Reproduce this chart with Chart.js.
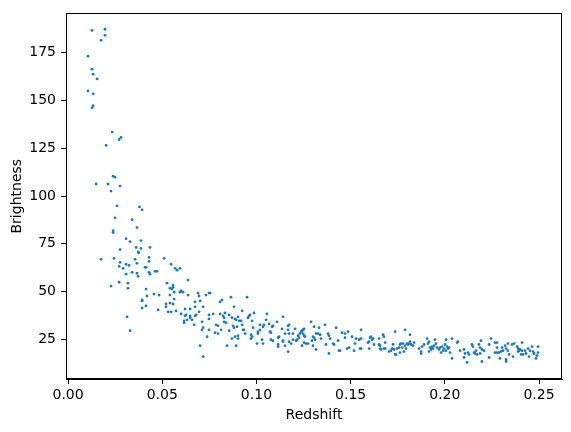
<!DOCTYPE html>
<html lang="en">
<head>
    <meta charset="UTF-8">
    <title>Redshift vs Brightness</title>
    <script src="https://cdn.jsdelivr.net/npm/chart.js"></script>
    <style>
        body { margin: 0; background: #fff; }
    </style>
</head>
<body>
    <canvas id="scatterChart" width="571" height="432"></canvas>

    <script>
        // values
        const redshift = [
            0.0127,0.0196,0.0196,0.0175,0.0106,0.0127,0.0133,0.0154,0.0106,0.0133,
            0.0133,0.0127,0.0234,0.0281,0.0271,0.0202,0.0239,0.0249,0.0149,0.0212,
            0.0276,0.0228,0.0260,0.0379,0.0393,0.0249,0.0340,0.0366,0.0239,0.0239,
            0.0308,0.0329,0.0387,0.0361,0.0387,0.0435,0.0372,0.0276,0.0375,0.0175,
            0.0244,0.0276,0.0356,0.0271,0.0308,0.0324,0.0292,0.0366,0.0340,0.0308,
            0.0366,0.0372,0.0228,0.0271,0.0318,0.0318,0.0313,0.0329,0.0430,0.0430,
            0.0510,0.0409,0.0414,0.0547,0.0430,0.0435,0.0462,0.0472,0.0568,0.0579,
            0.0594,0.0637,0.0525,0.0541,0.0552,0.0557,0.0557,0.0414,0.0563,0.0594,
            0.0600,0.0610,0.0456,0.0483,0.0541,0.0419,0.0637,0.0690,0.0695,0.0732,
            0.0748,0.0393,0.0393,0.0563,0.0520,0.0520,0.0541,0.0557,0.0674,0.0701,
            0.0414,0.0393,0.0478,0.0531,0.0547,0.0573,0.0621,0.0648,0.0674,0.0717,
            0.0600,0.0621,0.0626,0.0648,0.0648,0.0674,0.0680,0.0695,0.0616,0.0616,
            0.0632,0.0658,0.0669,0.0711,0.0717,0.0711,0.0748,0.0748,0.0748,0.0738,
            0.0701,0.0717,0.0754,0.0770,0.0786,0.0796,0.0780,0.0796,0.0807,0.0817,
            0.0807,0.0823,0.0828,0.0833,0.0828,0.0839,0.0812,0.0844,0.0855,0.0855,
            0.0865,0.0870,0.0870,0.0881,0.0886,0.0881,0.0876,0.0892,0.0897,0.0886,
            0.0892,0.0902,0.0902,0.0902,0.0908,0.0918,0.0924,0.0924,0.0929,0.0934,
            0.0940,0.0950,0.0955,0.0961,0.0966,0.0977,0.0987,0.0982,0.0971,0.0977,
            0.0971,0.1003,0.1008,0.1008,0.1019,0.1019,0.1030,0.1035,0.1035,0.1040,
            0.1051,0.1056,0.1067,0.1072,0.1077,0.1077,0.1088,0.1083,0.1088,0.1109,
            0.1115,0.1115,0.1115,0.1120,0.1136,0.1141,0.1141,0.1141,0.1152,0.1152,
            0.1168,0.1168,0.1173,0.1168,0.1173,0.1173,0.1184,0.1194,0.1194,0.1205,
            0.1210,0.1216,0.1221,0.1226,0.1231,0.1237,0.1242,0.1242,0.1247,0.1253,
            0.1247,0.1253,0.1258,0.1253,0.1263,0.1274,0.1290,0.1295,0.1300,0.1306,
            0.1306,0.1300,0.1311,0.1316,0.1316,0.1327,0.1332,0.1338,0.1343,0.1364,
            0.1369,0.1380,0.1385,0.1391,0.1385,0.1407,0.1412,0.1423,0.1433,0.1438,
            0.1444,0.1454,0.1470,0.1470,0.1481,0.1486,0.1492,0.1507,0.1518,0.1523,
            0.1529,0.1545,0.1555,0.1555,0.1550,0.1555,0.1592,0.1598,0.1598,0.1603,
            0.1608,0.1614,0.1619,0.1624,0.1651,0.1651,0.1656,0.1656,0.1661,0.1672,
            0.1677,0.1683,0.1677,0.1683,0.1704,0.1714,0.1720,0.1725,0.1730,0.1736,
            0.1736,0.1741,0.1746,0.1757,0.1762,0.1762,0.1767,0.1773,0.1778,0.1783,
            0.1789,0.1789,0.1794,0.1799,0.1805,0.1810,0.1815,0.1815,0.1821,0.1831,
            0.1863,0.1837,0.1874,0.1874,0.1879,0.1890,0.1906,0.1911,0.1916,0.1916,
            0.1921,0.1927,0.1932,0.1937,0.1943,0.1948,0.1953,0.1959,0.1969,0.1975,
            0.1980,0.1985,0.1991,0.1996,0.2001,0.2006,0.2006,0.2012,0.2017,0.2022,
            0.2028,0.2038,0.2038,0.2065,0.2070,0.2081,0.2102,0.2102,0.2107,0.2118,
            0.2123,0.2128,0.2144,0.2149,0.2155,0.2160,0.2165,0.2171,0.2181,0.2187,
            0.2192,0.2187,0.2197,0.2197,0.2208,0.2235,0.2235,0.2245,0.2266,0.2277,
            0.2266,0.2277,0.2277,0.2288,0.2298,0.2293,0.2304,0.2309,0.2320,0.2325,
            0.2325,0.2325,0.2335,0.2335,0.2341,0.2357,0.2362,0.2368,0.2384,0.2389,
            0.2389,0.2394,0.2399,0.2405,0.2410,0.2410,0.2415,0.2426,0.2431,0.2442,
            0.2447,0.2452,0.2463,0.2468,0.2474,0.2484,0.2495,0.2495,0.2489
        ];
        const brightness = [
            186.7,187.3,184.1,181.5,173.2,166.4,163.8,161.3,155.0,153.5,
            147.3,146.2,133.5,130.7,129.6,126.5,110.4,109.9,106.3,106.3,
            105.2,102.6,94.9,94.3,92.8,88.6,87.6,83.5,81.9,80.9,
            77.7,76.2,76.7,73.1,72.6,73.1,70.8,72.0,70.3,66.9,
            67.4,65.3,66.9,63.2,64.3,63.7,62.2,64.8,60.1,59.1,
            59.6,58.0,52.9,54.9,54.4,51.8,36.8,29.5,67.9,65.8,
            67.4,62.7,62.7,64.3,60.1,59.1,60.6,60.6,62.2,61.2,
            62.2,56.0,54.4,51.8,51.3,53.4,52.3,51.3,49.7,49.7,
            50.3,49.7,48.7,48.2,48.2,47.7,48.2,49.2,47.7,48.2,
            49.2,45.6,45.1,46.1,43.5,42.0,44.0,43.5,44.6,45.1,
            42.5,41.4,40.4,39.4,39.4,39.9,40.9,40.9,42.0,42.0,
            38.3,37.3,37.8,37.3,36.3,37.3,37.8,39.4,34.7,33.7,
            35.2,35.2,32.6,34.2,31.1,30.0,37.8,35.7,30.0,26.4,
            21.7,16.0,49.2,38.3,32.6,32.1,28.5,28.0,44.6,45.6,
            38.3,37.3,36.3,38.8,34.2,33.7,30.0,21.7,37.8,29.5,
            47.1,36.3,25.4,42.0,35.7,31.1,32.1,35.2,31.6,26.4,
            21.7,36.8,26.9,25.4,34.7,34.7,39.9,32.6,30.0,30.0,
            28.0,47.1,36.3,37.3,37.8,34.7,38.8,31.1,27.4,26.4,
            25.4,22.8,28.0,29.0,30.0,32.6,24.8,22.8,31.6,32.6,
            35.2,38.3,33.1,29.0,28.5,24.8,24.3,31.6,32.1,34.2,
            25.9,22.3,21.2,26.4,30.5,36.8,24.3,23.8,28.0,21.7,
            32.1,30.0,32.6,18.6,28.0,23.8,22.8,28.0,24.8,30.5,
            24.3,24.8,26.9,25.9,28.0,29.0,29.5,21.7,30.0,30.5,
            28.0,26.9,26.4,23.3,22.8,22.8,34.2,24.3,26.4,31.6,
            25.9,21.7,24.8,19.7,28.0,28.0,31.1,27.4,25.4,32.6,
            22.3,28.0,26.9,25.4,17.6,22.8,22.3,31.1,24.3,19.1,
            19.1,28.5,28.0,25.9,20.2,29.0,20.7,26.4,19.1,22.8,
            25.4,24.8,25.4,30.0,20.2,20.2,23.3,23.8,20.2,25.9,
            26.4,24.8,25.4,22.3,25.4,22.3,21.7,20.2,19.7,27.4,
            26.4,23.3,20.2,20.2,18.6,19.1,20.2,22.3,19.7,29.0,
            17.1,17.1,20.2,20.7,22.3,18.1,22.8,20.7,22.8,18.6,
            30.0,21.7,20.2,22.8,22.3,22.8,27.4,23.8,22.3,21.7,
            20.2,23.3,17.6,18.6,21.2,22.3,25.4,22.8,23.8,18.6,
            20.7,19.7,21.2,20.2,21.7,24.8,22.8,20.7,19.7,20.7,
            18.1,21.2,19.1,20.2,22.3,24.8,19.1,21.2,20.2,20.7,
            18.1,25.4,15.0,23.3,23.8,19.1,19.7,15.5,17.6,12.9,
            18.1,17.1,22.3,21.2,18.1,17.6,19.1,17.1,22.3,20.7,
            24.3,17.6,19.7,13.4,19.1,22.3,15.5,25.4,23.3,23.3,
            18.1,18.1,20.7,18.1,18.6,15.0,20.7,19.1,21.7,20.2,
            14.5,13.4,22.8,19.1,17.1,22.3,16.0,22.8,21.2,20.2,
            18.6,19.1,19.7,17.1,23.3,19.1,17.1,19.1,17.6,20.2,
            16.0,19.1,21.2,18.6,17.6,15.0,21.2,18.1,16.5
        ];
        const xTicks = [0.00, 0.05, 0.10, 0.15, 0.20, 0.25];
        const yTicks = [25, 50, 75, 100, 125, 150, 175];

        const points = redshift.map((x, i) => ({ x: x, y: brightness[i] }));

        // draw the full box round the plot, like matplotlib spines
        const frame = {
            id: 'frame',
            afterDraw(chart) {
                const a = chart.chartArea;
                const ctx = chart.ctx;
                ctx.save();
                ctx.strokeStyle = '#000';
                ctx.lineWidth = 1;
                ctx.strokeRect(Math.round(a.left) + 0.5, Math.round(a.top) + 0.5,
                    Math.round(a.right - a.left) - 1, Math.round(a.bottom - a.top) - 1);
                ctx.restore();
            }
        };

        const font = { family: 'DejaVu Sans', size: 14 };

        new Chart(document.getElementById('scatterChart'), {
            type: 'scatter',
            data: {
                datasets: [{
                    data: points,
                    backgroundColor: '#1f77b4',
                    borderWidth: 0,
                    pointRadius: 1.4,
                }],
            },
            options: {
                responsive: false,
                animation: false,
                devicePixelRatio: 1,
                layout: { padding: { top: 10, right: 9, left: 0, bottom: 0 } },
                plugins: { legend: { display: false }, tooltip: { enabled: false } },
                scales: {
                    x: {
                        type: 'linear',
                        min: -0.0011,
                        max: 0.2622,
                        afterBuildTicks: s => { s.ticks = xTicks.map(v => ({ value: v })); },
                        afterFit: s => { s.height = 53; },
                        grid: { drawOnChartArea: false, drawTicks: true, tickLength: 5, tickColor: '#000' },
                        border: { color: '#000', width: 1 },
                        ticks: { color: '#000', font: font, padding: 3, maxRotation: 0,
                            callback: v => v.toFixed(2) },
                        title: { display: true, text: 'Redshift', color: '#000', font: font,
                            padding: { top: 0, bottom: 8 } },
                    },
                    y: {
                        type: 'linear',
                        min: 4.25,
                        max: 195.6,
                        afterBuildTicks: s => { s.ticks = yTicks.map(v => ({ value: v })); },
                        afterFit: s => { s.width = 66; },
                        grid: { drawOnChartArea: false, drawTicks: true, tickLength: 5, tickColor: '#000' },
                        border: { color: '#000', width: 1 },
                        ticks: { color: '#000', font: font, padding: 5 },
                        title: { display: true, text: 'Brightness', color: '#000', font: font,
                            padding: { top: 9, bottom: 0 } },
                    },
                },
            },
            plugins: [frame],
        });
    </script>
</body>
</html>
